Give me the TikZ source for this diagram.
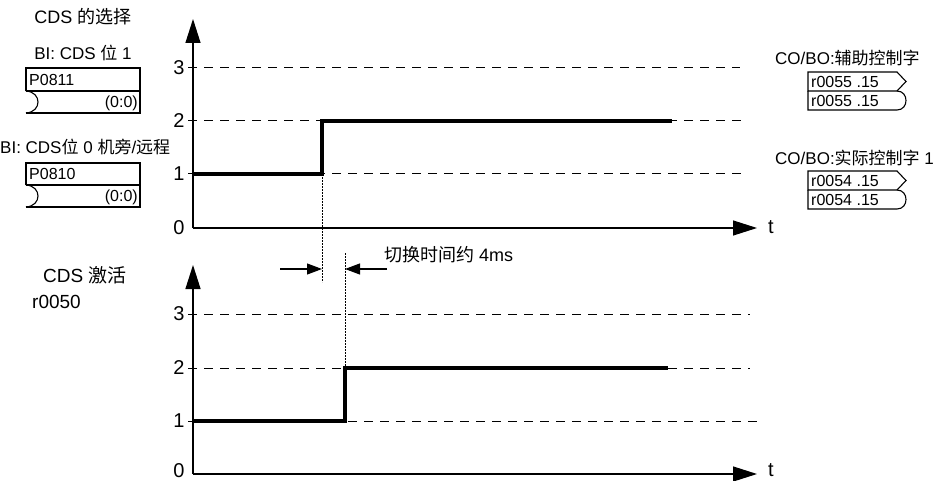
\documentclass[tikz,border=0pt]{standalone}
\usepackage{fontspec}
\setmainfont{Liberation Sans}
\newfontfamily\cjk{Noto Sans CJK SC}
\usetikzlibrary{arrows.meta}
\begin{document}
\begin{tikzpicture}[x=1pt,y=-1pt,
  axisline/.style={line width=1.3pt,-{Triangle[length=24pt,width=15pt]}},
  gridline/.style={line width=1pt,dash pattern=on 9pt off 7pt},
  sigline/.style={line width=3.2pt},
  dotline/.style={line width=0.9pt,dash pattern=on 1.6pt off 1.4pt},
  measline/.style={line width=1.1pt,-{Triangle[length=15pt,width=11pt]}},
  boxline/.style={line width=1.1pt},
  lbl/.style={font=\fontsize{17}{19}\selectfont,inner sep=0pt},
  big/.style={font=\fontsize{19}{21}\selectfont,inner sep=0pt},
  tick/.style={font=\fontsize{20}{22}\selectfont,inner sep=0pt},
  boxtxt/.style={font=\fontsize{16}{18}\selectfont,inner sep=0pt}]
\useasboundingbox (0,0) rectangle (947,481);

% ---------- top chart ----------
\coordinate (a0) at (193,228);
\coordinate (a1) at (193,19);
\coordinate (a2) at (757,228);
\foreach \y/\e in {68/740,121/747,174/747}{
  \draw[gridline] (188,\y) -- (\e,\y);
}
\draw[axisline] (a0) -- (a1);
\draw[axisline] (a0) -- (a2);
\node[tick] (t0) at (179,228) {0};
\node[tick] (t1) at (179,174) {1};
\node[tick] (t2) at (179,121) {2};
\node[tick] (t3) at (179,68) {3};
\node[tick] (tt) at (771,227) {t};
\draw[sigline] (193,174) -- (322,174) -- (322,121) -- (672,121);

% ---------- bottom chart ----------
\coordinate (b0) at (193,474);
\coordinate (b1) at (193,265);
\coordinate (b2) at (757,474);
\foreach \y/\e in {314/750,368/750,421/758}{
  \draw[gridline] (188,\y) -- (\e,\y);
}
\draw[axisline] (b0) -- (b1);
\draw[axisline] (b0) -- (b2);
\node[tick] (u0) at (179,471) {0};
\node[tick] (u1) at (179,421) {1};
\node[tick] (u2) at (179,368) {2};
\node[tick] (u3) at (179,314) {3};
\node[tick] (ut) at (771,470) {t};
\draw[sigline] (193,421) -- (345,421) -- (345,368) -- (668,368);

% ---------- switching time ----------
\coordinate (d1a) at (322,174);
\coordinate (d1b) at (322,282);
\coordinate (d2a) at (345,253);
\coordinate (d2b) at (345,368);
\draw[dotline] (d1a) -- (d1b);
\draw[dotline] (d2a) -- (d2b);
\coordinate (m1s) at (280,269);
\coordinate (m1e) at (322,269);
\coordinate (m2s) at (387,269);
\coordinate (m2e) at (345,269);
\draw[measline] (m1s) -- (m1e);
\draw[measline] (m2s) -- (m2e);
\node[font=\fontsize{18}{20}\selectfont,inner sep=0pt,anchor=west] (sw) at (384,255) {{\cjk 切换时间约} 4ms};

% ---------- left labels ----------
\node[font=\fontsize{18}{20}\selectfont,inner sep=0pt] (title) at (83,17) {CDS {\cjk 的选择}};
\node[lbl] (bi1) at (83,53) {BI: CDS {\cjk 位} 1};
\draw[boxline] (26,91) -- (26,68) -- (140,68) -- (140,113) -- (26,113);
\draw[boxline] (26,91) -- (140,91);
\draw[boxline] (26,91) .. controls (42,92) and (42,112) .. (26,113);
\node[boxtxt,anchor=west] (p811) at (29,80) {P0811};
\node[boxtxt,anchor=east] (p811v) at (138,103) {(0:0)};

\node[lbl,anchor=west] (bi0) at (0,147) {BI: CDS{\cjk 位} 0 {\cjk 机旁}/{\cjk 远程}};
\draw[boxline] (26,185) -- (26,163) -- (140,163) -- (140,207) -- (26,207);
\draw[boxline] (26,185) -- (140,185);
\draw[boxline] (26,185) .. controls (42,186) and (42,206) .. (26,207);
\node[boxtxt,anchor=west] (p810) at (29,174) {P0810};
\node[boxtxt,anchor=east] (p810v) at (138,197) {(0:0)};

\node[big,anchor=west] (act) at (43,275) {CDS {\cjk 激活}};
\node[big,anchor=west] (r50) at (32,302) {r0050};

% ---------- right labels ----------
\node[lbl,anchor=west] (co1) at (775,58) {CO/BO:{\cjk 辅助控制字}};
\draw[boxline] (808,91) -- (808,72) -- (897,72) -- (906,81.5) -- (897,91) -- cycle;
\draw[boxline] (808,91) -- (808,110) -- (897,110) .. controls (909,110) and (909,91) .. (897,91);
\node[boxtxt,anchor=west] (r55a) at (811,81.5) {r0055 .15};
\node[boxtxt,anchor=west] (r55b) at (811,100.5) {r0055 .15};

\node[lbl,anchor=west] (co2) at (775,158) {CO/BO:{\cjk 实际控制字} 1};
\draw[boxline] (808,190) -- (808,171) -- (897,171) -- (906,180.5) -- (897,190) -- cycle;
\draw[boxline] (808,190) -- (808,209) -- (897,209) .. controls (909,209) and (909,190) .. (897,190);
\node[boxtxt,anchor=west] (r54a) at (811,180.5) {r0054 .15};
\node[boxtxt,anchor=west] (r54b) at (811,199.5) {r0054 .15};
\end{tikzpicture}
\end{document}
